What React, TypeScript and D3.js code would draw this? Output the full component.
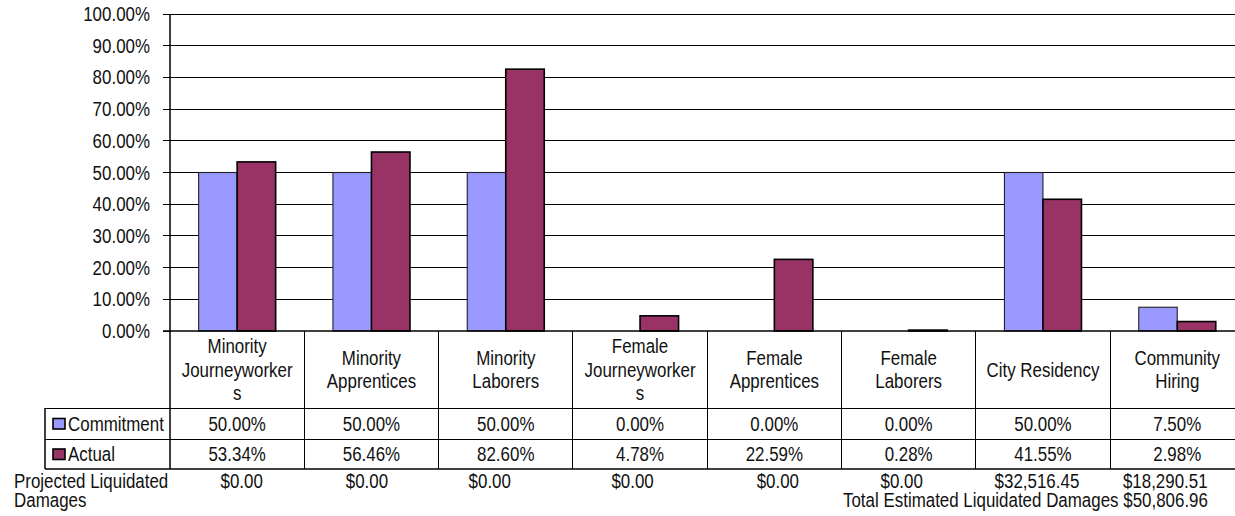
import React from 'react';
import * as d3 from 'd3';

const categories: string[][] = [
  ['Minority', 'Journeyworker', 's'],
  ['Minority', 'Apprentices'],
  ['Minority', 'Laborers'],
  ['Female', 'Journeyworker', 's'],
  ['Female', 'Apprentices'],
  ['Female', 'Laborers'],
  ['City Residency'],
  ['Community', 'Hiring'],
];
const seriesNames = ['Commitment', 'Actual'];
const commitment = [0.5, 0.5, 0.5, 0, 0, 0, 0.5, 0.075];
const actual = [0.5334, 0.5646, 0.826, 0.0478, 0.2259, 0.0028, 0.4155, 0.0298];
const projected = ['$0.00', '$0.00', '$0.00', '$0.00', '$0.00', '$0.00', '$32,516.45', '$18,290.51'];
const yTicks = [0, 0.1, 0.2, 0.3, 0.4, 0.5, 0.6, 0.7, 0.8, 0.9, 1.0];
const projectedTitle = ['Projected Liquidated', 'Damages'];
const totalLabel = 'Total Estimated Liquidated Damages $50,806.96';

// layout (not data)
const W = 1235;
const H = 516;
const plotLeft = 170;
const colW = 134.3;
const plotTop = 14;
const plotBottom = 331;
const catRowBottom = 408;
const commitRowBottom = 439;
const actualRowBottom = 469;
const legendLeft = 45;
const projOffsets = [4.5, -4.5, -16, -7.5, 3.5, -7, -6, -12];
const colors = ['#9999FF', '#993366'];
const FONT = "'Liberation Sans', Arial, sans-serif";
const FS = 19.5;
const SX = 0.868; // horizontal condense to mimic Arial Narrow

type TP = { x: number; y: number; anchor?: 'start' | 'middle' | 'end'; children: React.ReactNode };
function T({ x, y, anchor = 'start', children }: TP) {
  return (
    <text transform={`translate(${x},${y}) scale(${SX},1)`} textAnchor={anchor} fill="#111">
      {children}
    </text>
  );
}

export default function App() {
  const x = d3
    .scaleBand<number>()
    .domain(categories.map((_, i) => i))
    .range([plotLeft, plotLeft + colW * categories.length])
    .padding(0);
  const inner = d3
    .scaleBand<string>()
    .domain(seriesNames)
    .range([0, x.bandwidth()])
    .paddingInner(0)
    .paddingOuter(0.744);
  const y = d3.scaleLinear().domain([0, 1]).range([plotBottom, plotTop]);
  const fmt = d3.format('.2%');
  const series = [commitment, actual];
  const right = plotLeft + colW * categories.length;

  const catCenterY = (plotBottom + catRowBottom) / 2;
  const commitCY = (catRowBottom + commitRowBottom) / 2;
  const actualCY = (commitRowBottom + actualRowBottom) / 2;
  const base = 7; // cap-center to baseline

  return (
    <svg
      width={W}
      height={H}
      style={{ position: 'absolute', left: 0, top: 0, background: '#fff' }}
      fontFamily={FONT}
      fontSize={FS}
    >
      <rect x={0} y={0} width={W} height={H} fill="#fff" />
      {/* gridlines */}
      {yTicks.filter((t) => t > 0).map((t) => (
        <line key={'g' + t} x1={plotLeft} x2={right} y1={y(t)} y2={y(t)} stroke="#000" strokeWidth={1} shapeRendering="crispEdges" />
      ))}
      {/* ticks and labels */}
      {yTicks.map((t) => (
        <g key={'t' + t}>
          <line x1={plotLeft - 7} x2={plotLeft} y1={y(t)} y2={y(t)} stroke="#000" strokeWidth={1} shapeRendering="crispEdges" />
          <T x={150} y={y(t) + base} anchor="end">{fmt(t)}</T>
        </g>
      ))}
      {/* bars */}
      {categories.map((_, i) => (
        <g key={'b' + i}>
          {series.map((s, j) => {
            const bx = (x(i) as number) + (inner(seriesNames[j]) as number);
            const by = y(s[i]);
            const h = plotBottom - by;
            if (h <= 0) return null;
            return (
              <rect
                key={j}
                x={bx}
                y={by}
                width={inner.bandwidth()}
                height={h}
                fill={colors[j]}
                stroke={j === 0 ? '#222' : '#000'}
                strokeWidth={j === 0 ? 1.1 : 1.6}
              />
            );
          })}
        </g>
      ))}
      {/* y axis */}
      <line x1={plotLeft} x2={plotLeft} y1={plotTop} y2={actualRowBottom} stroke="#000" strokeWidth={1.5} />
      {/* table lines */}
      <line x1={plotLeft - 7} x2={right} y1={plotBottom} y2={plotBottom} stroke="#000" strokeWidth={1.5} />
      <line x1={legendLeft} x2={right} y1={catRowBottom} y2={catRowBottom} stroke="#000" strokeWidth={1} shapeRendering="crispEdges" />
      <line x1={legendLeft} x2={right} y1={commitRowBottom} y2={commitRowBottom} stroke="#000" strokeWidth={1} shapeRendering="crispEdges" />
      <line x1={legendLeft} x2={right} y1={actualRowBottom} y2={actualRowBottom} stroke="#000" strokeWidth={1.5} />
      <line x1={legendLeft} x2={legendLeft} y1={catRowBottom} y2={actualRowBottom} stroke="#000" strokeWidth={1.5} />
      {categories.map((_, i) => (
        <line
          key={'c' + i}
          x1={(x(i) as number) + colW}
          x2={(x(i) as number) + colW}
          y1={plotBottom}
          y2={actualRowBottom}
          stroke="#000"
          strokeWidth={1}
          shapeRendering="crispEdges"
        />
      ))}
      {/* category labels */}
      {categories.map((lines, i) => {
        const cx = (x(i) as number) + colW / 2;
        return (
          <g key={'cl' + i}>
            {lines.map((ln, k) => (
              <T key={k} x={cx} y={catCenterY + base + (k - (lines.length - 1) / 2) * 23.5} anchor="middle">
                {ln}
              </T>
            ))}
          </g>
        );
      })}
      {/* legend keys */}
      {seriesNames.map((n, j) => {
        const cy = j === 0 ? commitCY : actualCY;
        return (
          <g key={'l' + n}>
            <rect x={53} y={cy - 5} width={12} height={10.5} fill={colors[j]} stroke="#000" strokeWidth={1.6} />
            <T x={68} y={cy + base}>{n}</T>
          </g>
        );
      })}
      {/* values */}
      {series.map((s, j) =>
        s.map((v, i) => (
          <T key={'v' + j + '-' + i} x={(x(i) as number) + colW / 2} y={(j === 0 ? commitCY : actualCY) + base} anchor="middle">
            {fmt(v)}
          </T>
        ))
      )}
      {/* projected damages */}
      <T x={14} y={488}>{projectedTitle[0]}</T>
      <T x={14} y={506.5}>{projectedTitle[1]}</T>
      {projected.map((p, i) => (
        <T key={'p' + i} x={(x(i) as number) + colW / 2 + projOffsets[i]} y={488} anchor="middle">
          {p}
        </T>
      ))}
      <T x={843} y={506.5}>{totalLabel}</T>
    </svg>
  );
}
